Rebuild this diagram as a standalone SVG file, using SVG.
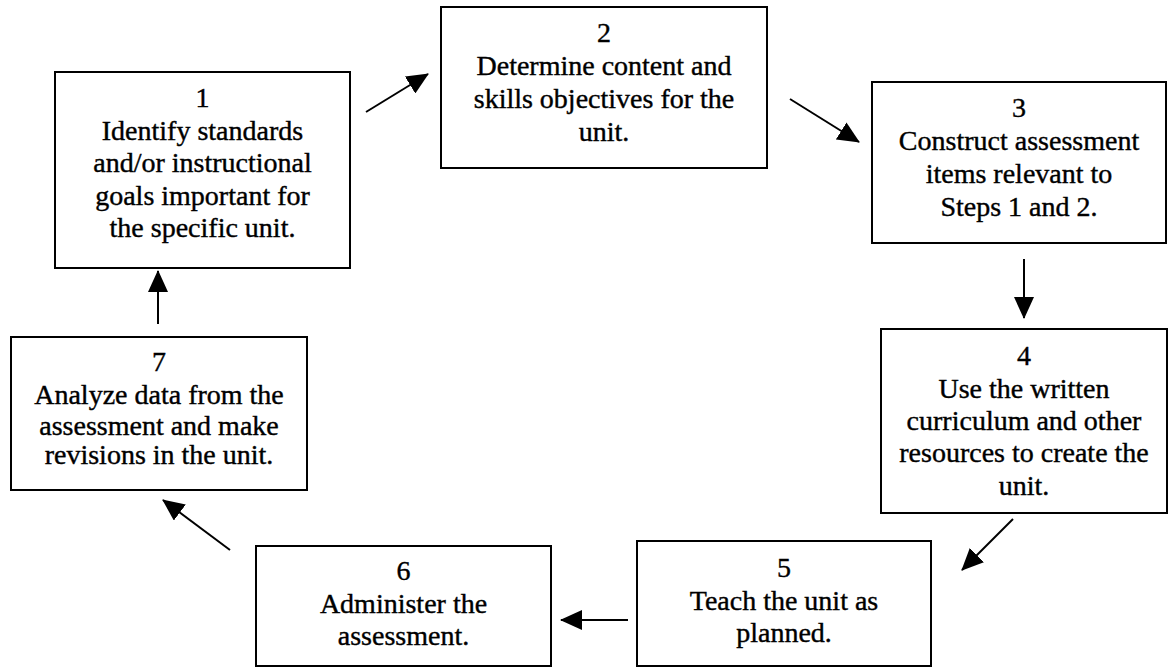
<svg xmlns="http://www.w3.org/2000/svg" width="1174" height="668" viewBox="0 0 1174 668">
  <style>
    .box { fill: #ffffff; stroke: #000000; stroke-width: 2; }
    .lbl { font-family: "Liberation Serif", "Times New Roman", serif; font-size: 28px; fill: #000000; stroke: #000000; stroke-width: 0.4; text-anchor: middle; }
    .conn { stroke: #000000; stroke-width: 2; fill: none; marker-end: url(#head); }
  </style>
  <defs>
    <marker id="head" markerUnits="userSpaceOnUse" markerWidth="22" markerHeight="20" refX="21" refY="10" orient="auto">
      <path d="M0,0 L22,10 L0,20 Z" fill="#000000"/>
    </marker>
  </defs>
  <rect width="1174" height="668" fill="#ffffff"/>

  <!-- steps of the unit-planning cycle -->
  <g id="step1">
    <rect class="box" x="55" y="72" width="295" height="196"/>
    <text class="lbl" x="202.5" y="107">1</text>
    <text class="lbl" x="202.5" y="140">Identify standards</text>
    <text class="lbl" x="202.5" y="172">and/or instructional</text>
    <text class="lbl" x="202.5" y="205">goals important for</text>
    <text class="lbl" x="202.5" y="237">the specific unit.</text>
  </g>
  <g id="step2">
    <rect class="box" x="441" y="7" width="326" height="161"/>
    <text class="lbl" x="604" y="42">2</text>
    <text class="lbl" x="604" y="75">Determine content and</text>
    <text class="lbl" x="604" y="108">skills objectives for the</text>
    <text class="lbl" x="604" y="141">unit.</text>
  </g>
  <g id="step3">
    <rect class="box" x="872" y="82" width="294" height="161"/>
    <text class="lbl" x="1019" y="117">3</text>
    <text class="lbl" x="1019" y="150">Construct assessment</text>
    <text class="lbl" x="1019" y="183">items relevant to</text>
    <text class="lbl" x="1019" y="216">Steps 1 and 2.</text>
  </g>
  <g id="step4">
    <rect class="box" x="881" y="329" width="286" height="184"/>
    <text class="lbl" x="1024" y="365">4</text>
    <text class="lbl" x="1024" y="398">Use the written</text>
    <text class="lbl" x="1024" y="430">curriculum and other</text>
    <text class="lbl" x="1024" y="462">resources to create the</text>
    <text class="lbl" x="1024" y="495">unit.</text>
  </g>
  <g id="step5">
    <rect class="box" x="637" y="541" width="294" height="125"/>
    <text class="lbl" x="784" y="577">5</text>
    <text class="lbl" x="784" y="610">Teach the unit as</text>
    <text class="lbl" x="784" y="642">planned.</text>
  </g>
  <g id="step6">
    <rect class="box" x="256" y="546" width="295" height="120"/>
    <text class="lbl" x="403.5" y="580">6</text>
    <text class="lbl" x="403.5" y="613">Administer the</text>
    <text class="lbl" x="403.5" y="645">assessment.</text>
  </g>
  <g id="step7">
    <rect class="box" x="11" y="337" width="296" height="153"/>
    <text class="lbl" x="159" y="371">7</text>
    <text class="lbl" x="159" y="404">Analyze data from the</text>
    <text class="lbl" x="159" y="435">assessment and make</text>
    <text class="lbl" x="159" y="464">revisions in the unit.</text>
  </g>

  <!-- arrows between steps -->
  <g id="connectors">
    <line class="conn" x1="366" y1="112" x2="428" y2="74"/>
    <line class="conn" x1="790" y1="99" x2="859" y2="142"/>
    <line class="conn" x1="1024" y1="259" x2="1024" y2="318"/>
    <line class="conn" x1="1013" y1="519" x2="962" y2="570"/>
    <line class="conn" x1="628" y1="620" x2="561" y2="620"/>
    <line class="conn" x1="230" y1="550" x2="163" y2="500"/>
    <line class="conn" x1="158" y1="324" x2="158" y2="271"/>
  </g>
</svg>
